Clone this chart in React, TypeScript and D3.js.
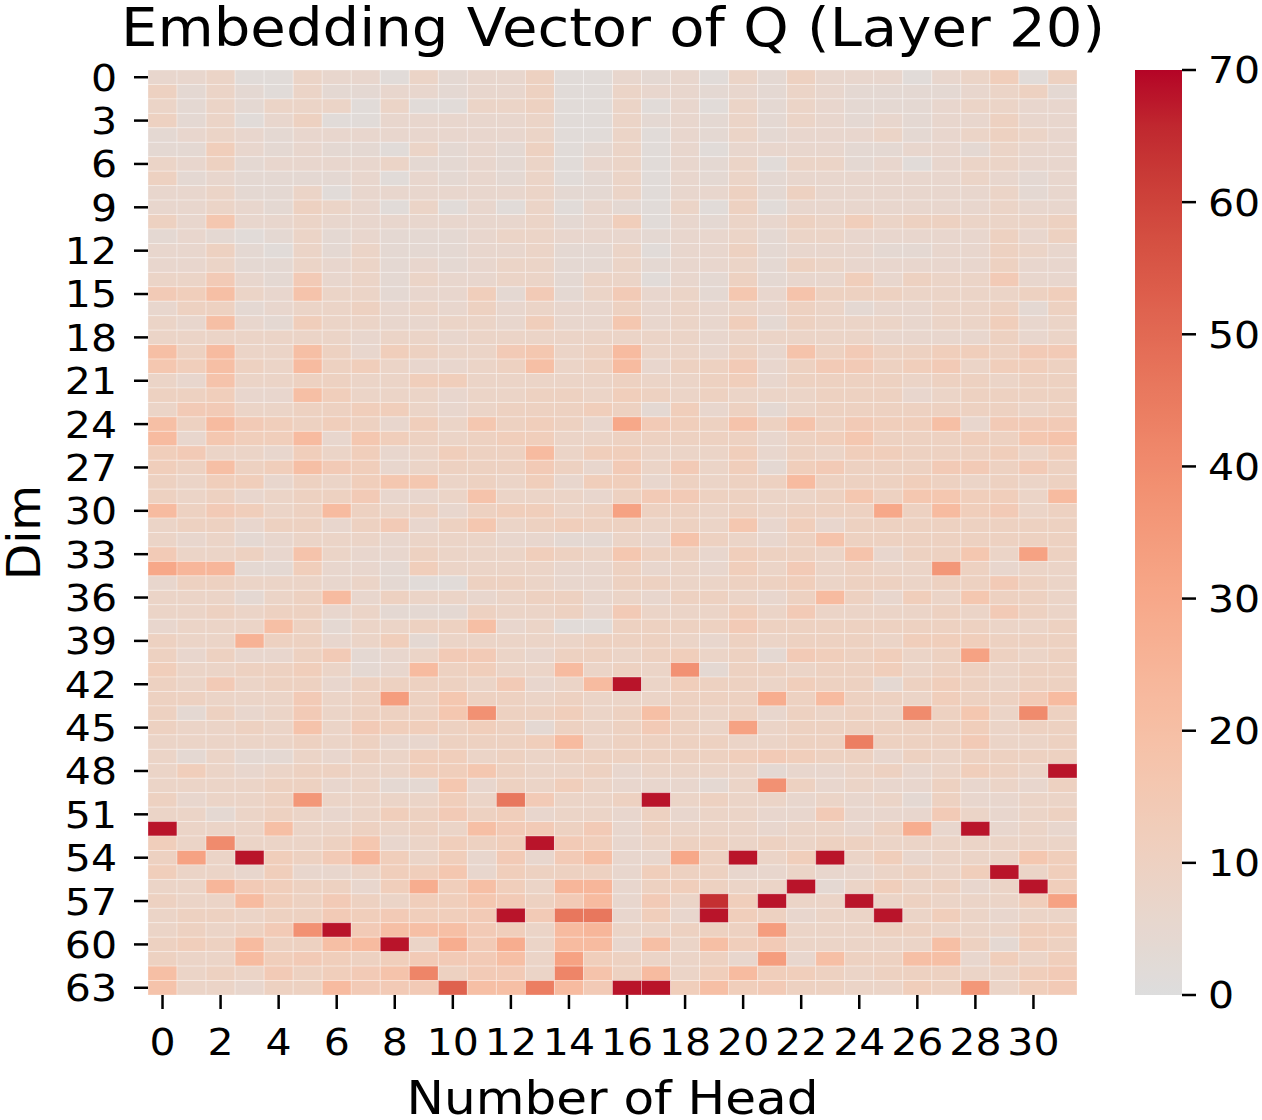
import React from "react";
import * as d3 from "d3";

// head index (columns) and dim index (rows)
const heads = d3.range(32);
const dims = d3.range(64);
const headTicks = d3.range(0, 32, 2);
const dimTicks = d3.range(0, 64, 3);
const barTicks = [0, 10, 20, 30, 40, 50, 60, 70];

// |Q| magnitude per dim (row) and head (column); one base-36 char per cell, value = (code - 1) * 2
const qRows = [
  "4452254425344622 4342536444245726",
  "6353253344344622 5443435433334563",
  "5353555252255622 5242535433345544",
  "6352462244444522 5343535434344644",
  "3454344444444522 5243534445345654",
  "3374343325343623 5242444433443544",
  "5463444453343524 5243525534245544",
  "6343333424343523 5243534444445434",
  "4453352444444533 5244636444444534",
  "4454365425242524 3252624444444544",
  "6494454444444534 7243546575665556",
  "3432353433345544 4344535544444646",
  "4463253533344533 5244634443344654",
  "4453354534345533 5344536544444644",
  "5584384535445535 5243634474655844",
  "87b54a5534473835 845394a666555567",
  "4663455645464544 6454546534455636",
  "54b4375544554744 9454736555455745",
  "5555555455455555 5554555554444645",
  "b6c55b6476558956 c55464a686677688",
  "97b65c6754456b56 c466846886785776",
  "54a5566557755555 6556746666566566",
  "66744b7555455665 7656555666456666",
  "5885566775456667 6374635666666656",
  "b6c8767647596764 g876a6a6877b4888",
  "c4977c4976567755 666664679666769a",
  "7855475745766c57 7555746577666757",
  "76b67b8745666864 8585737866688686",
  "6577465799565747 746566c666765656",
  "65645668445a5554 688665569699775c",
  "c68756c656467756 h66565666g6c7856",
  "5664664684695676 6565947466666666",
  "5453455545554433 54a6546a66666666",
  "85564a5446555765 96647665a46695h6",
  "gdd3374437555544 64547585655j6455",
  "4665554532266544 6655667566566865",
  "555356c465545664 5466546c64759665",
  "5565664533365564 8555758555565865",
  "4555b635566b4522 6666866666666556",
  "655e664573555556 6654656665777666",
  "6464468345885466 567563876756h656",
  "755667534c6755c5 65k3665667566566",
  "658566466665845c z576657663676566",
  "66555856i6966565 55666f6c6657668c",
  "63645856669k6675 6b65646565l695l6",
  "65565a5877676365 6865h56666667566",
  "55555656446667c5 66665566n6668556",
  "5353354657756566 6666787664656666",
  "5754566557796556 455553445645765z",
  "5555664533946575 44435k6454464546",
  "64556j555575o855 6z56554545364455",
  "5535654576867455 4645544844485456",
  "z555b556565b8868 4655545546f4z454",
  "75l5556945767z87 4566565665555555",
  "6h5z768d7574848b 44g6z57z57455597",
  "7554744577947666 4766445445657z57",
  "55d876647f7b75dd 467655z3575645z7",
  "655c76865779868c 485x7z55z565557h",
  "566566878778z8oo 474z76455z575455",
  "56568kz8bbb875cd 55666i5556655577",
  "676c66bcz5f8f5cc 4b5b7855555b6376",
  "655c78767888b5h7 65564i4b66bb4757",
  "b5658678am6885ma 6c57c77656665578",
  "a55466c888rbbnc8 zz7b78665576j578",
];

// upper half of matplotlib "coolwarm" (centre 0 -> max 70)
const coolwarmTop = [
  "#dddddd", "#e5d8d1", "#ecd3c5", "#f1ccb8", "#f5c4ac", "#f7bba0", "#f7b194", "#f7a687",
  "#f49a7b", "#f18d6f", "#ec7f63", "#e57058", "#de604d", "#d55042", "#cb3e38", "#c0282f", "#b40426",
];

const vmax = 70;

const cells = qRows.flatMap((row, r) =>
  row
    .replace(/\s/g, "")
    .split("")
    .map((ch, c) => ({ r, c, v: Math.max(0, (parseInt(ch, 36) - 1) * 2) }))
);

const font = "DejaVu Sans";
const sx = 1.08; // labels are set slightly wide

export default function App() {
  const left = 148, right = 1077, top = 70, bottom = 995;
  const cbLeft = 1135, cbRight = 1182;

  const x = d3.scaleBand<number>().domain(heads).range([left, right]);
  const y = d3.scaleBand<number>().domain(dims).range([top, bottom]);
  const color = d3
    .scaleLinear<string>()
    .domain(coolwarmTop.map((_, i) => (i * vmax) / (coolwarmTop.length - 1)))
    .range(coolwarmTop)
    .interpolate(d3.interpolateRgb)
    .clamp(true);
  const cb = d3.scaleLinear().domain([0, vmax]).range([bottom, top]);

  const gradStops = d3.range(0, 101).map((i) => ({ off: i / 100, col: color((i / 100) * vmax) }));

  return (
    <svg width={1262} height={1120} style={{ position: "absolute", left: 0, top: 0, background: "#fff" }}>
      <defs>
        <linearGradient id="cbar" x1="0" y1="1" x2="0" y2="0">
          {gradStops.map((s, i) => (
            <stop key={i} offset={s.off} stopColor={s.col} />
          ))}
        </linearGradient>
      </defs>

      {/* heatmap cells */}
      <g>
        {cells.map((d) => (
          <rect
            key={`${d.r}-${d.c}`}
            x={x(d.c)}
            y={y(d.r)}
            width={x.bandwidth()}
            height={y.bandwidth()}
            fill={color(d.v)}
            stroke="#ffffff"
            strokeOpacity={0.3}
            strokeWidth={1}
          />
        ))}
      </g>

      {/* y axis */}
      <g fontFamily={font} fontSize={38} fill="#000">
        {dimTicks.map((t) => {
          const yy = (y(t) as number) + y.bandwidth() / 2;
          return (
            <g key={t}>
              <line x1={left - 14} x2={left} y1={yy} y2={yy} stroke="#000" strokeWidth={2.5} />
              <text
                transform={`translate(${left - 31}, ${yy}) scale(${sx}, 1)`}
                textAnchor="end"
                dominantBaseline="central"
              >
                {t}
              </text>
            </g>
          );
        })}
      </g>

      {/* x axis */}
      <g fontFamily={font} fontSize={38} fill="#000">
        {headTicks.map((t) => {
          const xx = (x(t) as number) + x.bandwidth() / 2;
          return (
            <g key={t}>
              <line x1={xx} x2={xx} y1={bottom} y2={bottom + 14} stroke="#000" strokeWidth={2.5} />
              <text transform={`translate(${xx}, 1055) scale(${sx}, 1)`} textAnchor="middle">
                {t}
              </text>
            </g>
          );
        })}
      </g>

      {/* colorbar */}
      <rect x={cbLeft} y={top} width={cbRight - cbLeft} height={bottom - top} fill="url(#cbar)" />
      <g fontFamily={font} fontSize={38} fill="#000">
        {barTicks.map((t) => (
          <g key={t}>
            <line x1={cbRight} x2={cbRight + 14} y1={cb(t)} y2={cb(t)} stroke="#000" strokeWidth={2.5} />
            <text transform={`translate(${cbRight + 26}, ${cb(t)}) scale(${sx}, 1)`} dominantBaseline="central">
              {t}
            </text>
          </g>
        ))}
      </g>

      {/* titles */}
      <text
        transform={`translate(613, 46) scale(1.09, 1)`}
        textAnchor="middle"
        fontFamily={font}
        fontSize={53}
      >
        Embedding Vector of Q (Layer 20)
      </text>
      <text
        transform={`translate(${(left + right) / 2}, 1114) scale(1.065, 1)`}
        textAnchor="middle"
        fontFamily={font}
        fontSize={47}
      >
        Number of Head
      </text>
      <text
        transform={`translate(40, ${(top + bottom) / 2}) rotate(-90)`}
        textAnchor="middle"
        fontFamily={font}
        fontSize={47}
      >
        Dim
      </text>
    </svg>
  );
}
